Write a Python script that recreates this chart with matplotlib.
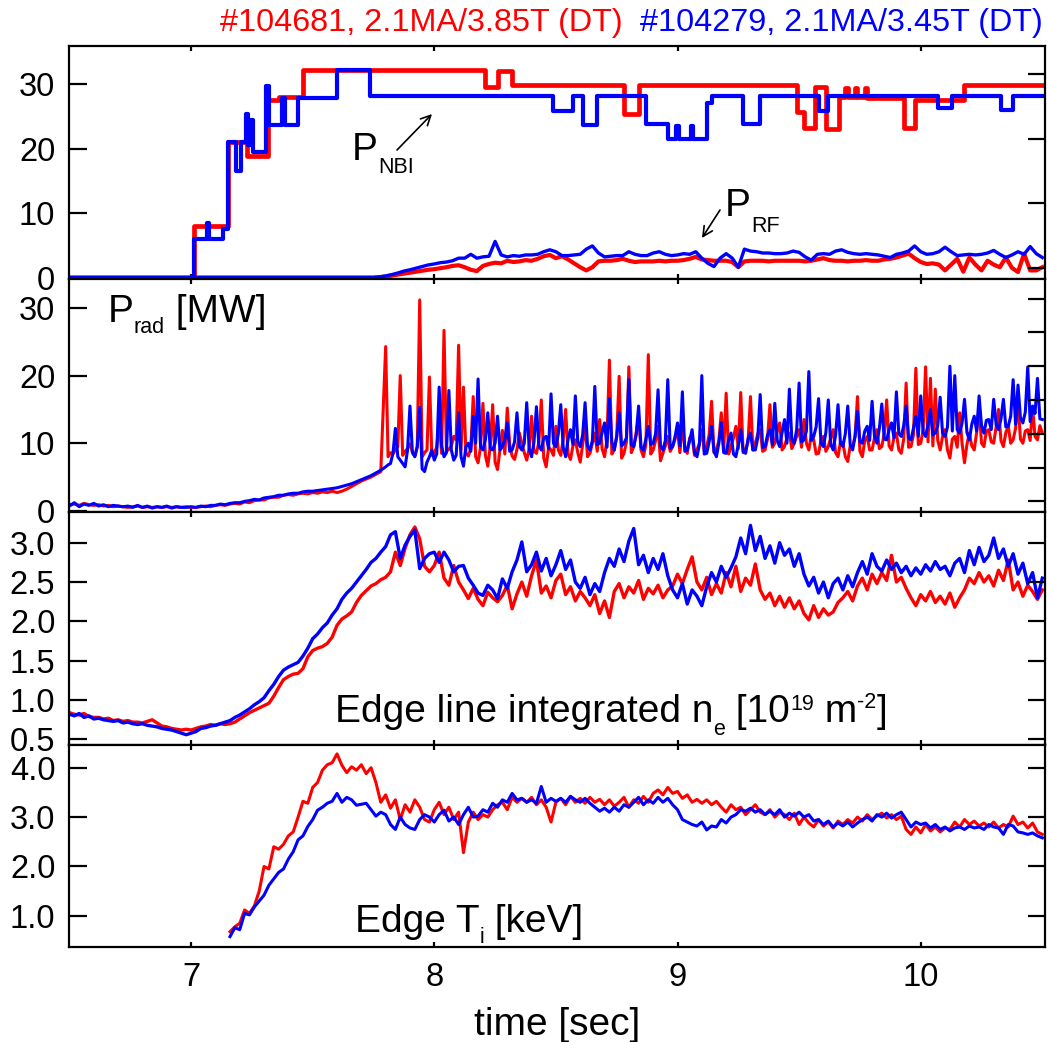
import numpy as np
import matplotlib
matplotlib.use("Agg")
import matplotlib.pyplot as plt
from matplotlib.transforms import IdentityTransform

plt.rcParams['font.family'] = ['Liberation Sans', 'DejaVu Sans']

RED = '#ff0000'
BLUE = '#0000ff'

# ---------------- data ----------------
# NBI power [MW], step changes (time [s], level)
nbi_red_t = [6.5, 7.01, 7.15, 7.23, 7.315, 7.36, 7.46, 8.21, 8.26, 8.32, 8.78, 8.84, 9.49, 9.52,
             9.565, 9.61, 9.665, 9.69, 9.70, 9.73, 9.74, 9.77, 9.78, 9.93, 9.975, 10.18, 10.52]
nbi_red_v = [0.0, 8.0, 21.0, 18.8, 27.6, 28.0, 32.2, 29.6, 32.0, 29.8, 25.4, 29.8, 25.6, 23.2,
             29.6, 23.0, 28.0, 29.4, 28.0, 29.4, 28.0, 29.4, 27.8, 23.2, 27.5, 29.8, 29.8]
nbi_blue_t = [6.5, 7.01, 7.065, 7.075, 7.13, 7.15, 7.185, 7.205, 7.225, 7.235, 7.245, 7.255, 7.31,
              7.32, 7.375, 7.385, 7.44, 7.6, 7.735, 8.49, 8.57, 8.61, 8.67, 8.87, 8.96, 8.995,
              9.005, 9.055, 9.065, 9.12, 9.14, 9.27, 9.34, 9.58, 9.62, 10.07, 10.13, 10.33, 10.38,
              10.52]
nbi_blue_v = [0.0, 6.0, 8.5, 6.0, 7.5, 21.0, 16.5, 21.0, 25.3, 20.5, 24.5, 19.5, 29.7,
              23.6, 27.8, 23.6, 27.8, 32.2, 28.1, 25.8, 28.1, 23.6, 28.1, 23.8, 21.5, 23.5,
              21.5, 23.5, 21.5, 27.0, 28.1, 23.8, 28.1, 25.8, 28.1, 26.3, 28.1, 26.0, 28.1,
              28.1]

# RF power [MW], sampled every 25 ms from 7.75 s (zero before)
RF_T0, RF_DT = 7.75, 0.025
rf_red = [0.0, 0.05, 0.15, 0.3, 0.45, 0.6, 0.75, 0.9, 1.05, 1.2,
          1.3, 1.45, 1.6, 1.8, 1.9, 1.6, 1.2, 1.0, 1.8, 2.1,
          2.3, 2.2, 2.6, 2.4, 2.5, 2.7, 2.6, 2.9, 3.3, 3.5,
          3.0, 3.3, 2.8, 2.2, 1.6, 1.1, 1.6, 2.5, 2.6, 2.6,
          2.7, 2.9, 2.6, 2.4, 2.5, 2.5, 2.5, 2.6, 2.5, 2.6,
          2.6, 2.7, 2.9, 3.2, 2.8, 2.7, 2.6, 2.6, 2.6, 2.4,
          1.6, 2.5, 2.6, 2.6, 2.6, 2.5, 2.6, 2.6, 2.6, 2.6,
          2.6, 2.5, 2.6, 2.8, 3.0, 2.7, 2.6, 2.6, 2.5, 2.6,
          2.6, 2.7, 2.6, 2.6, 2.8, 2.9, 3.1, 3.4, 3.7, 3.0,
          2.4, 2.1, 2.2, 2.0, 1.1, 2.0, 2.9, 0.9, 3.1, 2.0,
          1.1, 2.6, 2.0, 1.6, 3.1, 1.5, 0.85, 3.7, 1.1, 1.1, 1.6]
rf_blue = [0.0, 0.1, 0.25, 0.45, 0.7, 1.0, 1.2, 1.45, 1.7, 1.95,
           2.1, 2.3, 2.4, 2.6, 3.0, 3.0, 3.6, 3.0, 3.2, 3.3,
           5.6, 3.5, 3.2, 3.4, 3.3, 3.5, 3.5, 3.6, 4.0, 4.3,
           4.0, 3.4, 3.4, 3.5, 3.6, 4.4, 4.9, 3.8, 3.2, 3.3,
           3.4, 3.4, 4.0, 3.6, 3.4, 3.4, 3.8, 4.0, 3.6, 3.4,
           3.5, 3.7, 3.6, 4.0, 3.0, 2.2, 1.7, 3.0, 3.7, 3.0,
           1.6, 4.4, 4.1, 4.0, 3.8, 3.8, 3.7, 3.7, 3.8, 4.1,
           3.9, 3.2, 2.7, 3.6, 3.7, 3.6, 4.1, 4.3, 3.9, 3.7,
           3.6, 3.7, 3.6, 3.5, 3.3, 3.1, 3.6, 3.8, 4.1, 4.9,
           4.0, 3.6, 3.7, 4.0, 4.7, 4.0, 3.4, 3.5, 3.6, 3.5,
           3.6, 3.8, 4.2, 3.6, 3.1, 3.5, 4.0, 3.6, 4.8, 3.7, 3.1]

# Radiated power [MW]: every 20 ms from 6.50 s, then every 10 ms from 7.80 s
PRAD_EARLY_T0, PRAD_EARLY_DT = 6.5, 0.02
PRAD_LATE_T0, PRAD_LATE_DT = 7.8, 0.01
prad_red_early = [0.9, 1.0, 0.8, 1.1, 0.9, 0.8, 0.9, 0.7, 0.8, 0.6, 0.7, 0.6, 0.5,
                  0.6, 0.7, 0.5, 0.6, 0.5, 0.6, 0.5, 0.6, 0.5, 0.6, 0.5, 0.6, 0.5,
                  0.5, 0.6, 0.7, 0.6, 0.8, 0.9, 0.8, 1.0, 1.1, 1.0,
                  1.3, 1.2, 1.5, 1.6, 1.6, 1.9, 2.0, 2.0, 2.3, 2.4,
                  2.3, 2.5, 2.6, 2.5, 2.7, 2.6, 2.8, 2.7, 2.9, 2.7,
                  2.9, 3.2, 3.6, 4.0, 4.4, 4.7, 5.0, 5.4, 5.8]
prad_red_late = [24.3, 8.0, 8.6, 8.4, 9.0, 9.5, 20.0, 8.2, 8.8, 9.2,
                 9.9, 8.7, 8.1, 9.5, 31.2, 8.0, 8.6, 9.0, 19.8, 8.2,
                 8.6, 9.4, 13.5, 8.5, 26.7, 8.8, 9.1, 9.6, 11.0, 10.5,
                 24.5, 9.0, 18.3, 8.6, 8.1, 9.2, 16.9, 8.0, 7.1, 9.4,
                 15.9, 8.2, 6.6, 9.5, 15.7, 7.2, 6.1, 9.0, 11.9, 8.4,
                 15.2, 9.8, 8.1, 7.6, 9.1, 11.5, 10.0, 8.6, 7.5, 9.2,
                 14.0, 8.8, 8.5, 10.2, 16.4, 7.8, 6.5, 9.4, 9.0, 8.2,
                 12.5, 9.0, 8.2, 10.6, 15.0, 8.4, 7.6, 9.6, 10.5, 8.6,
                 7.2, 9.8, 13.0, 8.0, 8.5, 10.0, 11.5, 8.8, 13.5, 9.2,
                 8.0, 10.5, 22.3, 8.4, 9.0, 11.0, 19.9, 7.8, 8.5, 10.2,
                 21.3, 8.6, 9.5, 11.5, 14.0, 9.0, 8.0, 9.8, 23.1, 8.4,
                 9.0, 10.4, 12.5, 7.4, 8.5, 9.6, 11.0, 8.8, 9.5, 10.6,
                 12.0, 8.6, 13.0, 9.4, 8.5, 10.8, 11.0, 8.2, 9.0, 10.0,
                 12.0, 8.8, 9.5, 11.2, 16.2, 8.6, 9.0, 10.4, 14.5, 9.0,
                 17.4, 8.4, 9.5, 10.8, 12.5, 9.2, 17.5, 8.6, 9.0, 10.2,
                 16.9, 9.0, 10.0, 11.4, 12.0, 8.8, 9.0, 10.6, 15.7, 9.4,
                 10.0, 11.8, 13.0, 9.0, 9.5, 10.8, 11.5, 9.2, 10.0, 11.0,
                 12.0, 9.4, 13.5, 10.0, 9.0, 11.2, 10.5, 8.4, 8.5, 10.4,
                 11.0, 8.8, 9.5, 10.8, 12.0, 8.6, 8.0, 10.2, 10.0, 8.0,
                 7.3, 9.6, 9.5, 11.0, 16.9, 8.8, 8.0, 10.4, 11.0, 9.0,
                 9.0, 10.8, 12.0, 9.2, 9.5, 11.4, 16.4, 9.6, 9.0, 10.8,
                 11.5, 9.0, 8.5, 10.6, 18.9, 9.4, 9.5, 11.2, 21.1, 9.8,
                 10.0, 12.0, 21.3, 10.2, 19.6, 9.6, 18.0, 10.4, 9.0, 11.0,
                 12.0, 9.0, 7.8, 10.6, 11.0, 9.4, 14.5, 10.0, 7.1, 9.8,
                 11.5, 9.6, 9.0, 11.6, 15.4, 10.0, 9.5, 11.8, 12.0, 10.2,
                 10.0, 12.4, 15.0, 10.4, 9.5, 11.6, 12.5, 10.0, 10.5, 12.2,
                 16.2, 10.6, 10.0, 11.8, 12.0, 10.4, 15.4, 11.0, 10.5, 12.6,
                 11.5]
prad_blue_early = [0.7, 1.2, 0.6, 1.0, 0.8, 1.1, 0.7, 0.9, 0.6, 0.8, 0.7, 0.6, 0.7,
                   0.5, 0.8, 0.5, 0.7, 0.4, 0.6, 0.5, 0.7, 0.4, 0.6, 0.5, 0.5, 0.6,
                   0.5, 0.7, 0.6, 0.8, 0.8, 1.0, 0.9, 1.1, 1.2, 1.2,
                   1.4, 1.5, 1.7, 1.6, 1.9, 2.0, 2.1, 2.3, 2.3, 2.5,
                   2.6, 2.6, 2.8, 2.9, 2.9, 3.0, 3.1, 3.2, 3.3, 3.4,
                   3.6, 3.8, 4.0, 4.3, 4.6, 4.9, 5.2, 5.6, 6.0]
prad_blue_late = [6.5, 6.8, 7.0, 8.5, 12.2, 8.0, 7.5, 7.0, 6.5, 9.0,
                  15.5, 8.6, 8.0, 9.5, 15.3, 6.2, 5.8, 7.2, 8.0, 9.0,
                  7.5, 8.4, 18.3, 9.6, 8.0, 8.6, 17.8, 9.0, 7.5, 8.2,
                  14.5, 8.0, 6.6, 9.5, 10.0, 8.8, 14.0, 10.0, 19.5, 9.5,
                  9.0, 10.5, 14.5, 9.2, 9.0, 10.0, 14.0, 9.0, 9.5, 10.5,
                  13.0, 8.8, 9.0, 10.2, 14.5, 9.5, 9.0, 10.0, 16.0, 9.2,
                  8.0, 10.2, 15.4, 9.6, 9.0, 10.8, 11.0, 9.2, 17.3, 10.0,
                  9.5, 11.4, 15.7, 9.4, 8.0, 10.6, 12.0, 9.8, 17.0, 10.2,
                  9.5, 11.2, 16.0, 9.6, 9.0, 10.4, 18.4, 9.8, 10.0, 11.6,
                  13.0, 9.4, 16.6, 10.2, 9.0, 11.0, 14.5, 9.6, 10.0, 10.8,
                  19.4, 9.8, 9.5, 11.2, 15.5, 9.4, 9.0, 10.6, 12.5, 9.8,
                  10.0, 11.4, 17.9, 9.6, 9.0, 10.4, 19.4, 9.2, 9.5, 11.0,
                  13.0, 9.6, 17.6, 8.8, 9.0, 10.4, 12.0, 8.6, 8.0, 9.8,
                  20.0, 8.4, 8.5, 10.2, 12.5, 8.8, 8.0, 10.0, 13.0, 8.6,
                  8.5, 10.4, 11.5, 8.4, 8.0, 9.8, 12.0, 8.8, 8.5, 10.6,
                  11.5, 9.0, 9.0, 10.8, 17.2, 9.4, 9.5, 11.2, 12.0, 9.8,
                  15.9, 10.4, 9.5, 11.6, 13.5, 10.0, 18.0, 10.6, 10.0, 12.0,
                  18.9, 10.2, 10.5, 11.8, 20.6, 10.4, 11.0, 12.4, 16.6, 10.0,
                  9.5, 11.6, 16.4, 9.8, 9.0, 11.2, 15.7, 10.0, 9.5, 11.4,
                  15.5, 9.8, 9.0, 11.0, 14.7, 10.2, 10.0, 11.8, 12.5, 10.4,
                  16.2, 11.0, 10.0, 12.2, 15.8, 10.6, 10.5, 12.0, 13.0, 10.8,
                  17.6, 11.4, 11.0, 12.6, 15.5, 10.8, 10.5, 12.2, 14.0, 11.0,
                  17.0, 11.6, 11.0, 12.8, 15.0, 11.2, 11.5, 12.6, 16.8, 11.4,
                  11.0, 12.4, 21.4, 11.8, 20.0, 12.0, 11.5, 13.0, 16.5, 11.6,
                  10.5, 12.8, 14.0, 11.8, 17.0, 12.6, 11.5, 13.4, 13.5, 12.0,
                  16.5, 12.8, 12.0, 13.6, 16.5, 12.4, 12.5, 14.0, 19.4, 12.8,
                  18.6, 13.8, 13.0, 14.6, 21.3, 13.2, 15.5, 14.4, 19.6, 13.6,
                  13.5]

# Edge line-integrated density [1e19 m^-2], every 20 ms from 6.50 s
NE_T0, NE_DT = 6.5, 0.02
ne_red = [0.84, 0.82, 0.81, 0.83, 0.79, 0.78, 0.78, 0.76, 0.77, 0.74,
          0.75, 0.73, 0.74, 0.72, 0.72, 0.71, 0.73, 0.75, 0.71, 0.67,
          0.66, 0.64, 0.63, 0.62, 0.63, 0.62, 0.64, 0.66, 0.67, 0.69,
          0.68, 0.70, 0.69, 0.70, 0.72, 0.76, 0.80, 0.84, 0.87, 0.90,
          0.93, 0.96, 1.05, 1.16, 1.26, 1.30, 1.33, 1.34, 1.40, 1.55,
          1.63, 1.66, 1.68, 1.72, 1.80, 1.95, 2.03, 2.07, 2.12, 2.24,
          2.33, 2.39, 2.45, 2.48, 2.53, 2.56, 2.63, 2.88, 2.71, 2.93,
          3.10, 3.20, 3.05, 2.70, 2.63, 2.71, 2.88, 2.55, 2.46, 2.71,
          2.50, 2.40, 2.29, 2.42, 2.28, 2.20, 2.37, 2.30, 2.25, 2.33,
          2.46, 2.16, 2.35, 2.50, 2.32, 2.58, 2.78, 2.36, 2.45, 2.30,
          2.52, 2.60, 2.34, 2.44, 2.26, 2.38, 2.30, 2.20, 2.34, 2.10,
          2.26, 2.05, 2.38, 2.48, 2.30, 2.44, 2.36, 2.52, 2.28, 2.42,
          2.35, 2.46, 2.30, 2.40, 2.45, 2.60, 2.48, 2.66, 2.82, 2.50,
          2.40, 2.56, 2.34, 2.48, 2.36, 2.62, 2.44, 2.70, 2.38, 2.55,
          2.46, 2.73, 2.40, 2.28, 2.36, 2.20, 2.32, 2.18, 2.30, 2.16,
          2.26, 2.10, 2.02, 2.20, 2.05, 2.16, 2.08, 2.12, 2.24, 2.30,
          2.38, 2.26, 2.45, 2.55, 2.40, 2.60, 2.48, 2.62, 2.52, 2.84,
          2.50, 2.56, 2.42, 2.30, 2.20, 2.34, 2.26, 2.38, 2.24, 2.32,
          2.22, 2.36, 2.18, 2.30, 2.40, 2.55, 2.48, 2.62, 2.50, 2.58,
          2.45, 2.65, 2.52, 2.78, 2.40, 2.50, 2.32, 2.46, 2.38, 2.28,
          2.40]
ne_blue = [0.82, 0.80, 0.83, 0.78, 0.80, 0.76, 0.77, 0.75, 0.74, 0.73,
           0.74, 0.71, 0.72, 0.70, 0.69, 0.70, 0.68, 0.67, 0.66, 0.64,
           0.63, 0.62, 0.60, 0.58, 0.56, 0.58, 0.60, 0.64, 0.65, 0.67,
           0.68, 0.70, 0.72, 0.74, 0.78, 0.81, 0.85, 0.89, 0.94, 0.98,
           1.03, 1.12, 1.20, 1.30, 1.38, 1.42, 1.45, 1.48, 1.56, 1.66,
           1.78, 1.84, 1.92, 1.98, 2.08, 2.16, 2.28, 2.36, 2.42, 2.50,
           2.58, 2.66, 2.75, 2.80, 2.88, 2.95, 3.10, 3.14, 2.80, 2.97,
           3.08, 3.16, 2.67, 2.80, 2.86, 2.88, 2.75, 2.88, 2.78, 2.63,
           2.70, 2.71, 2.55, 2.46, 2.36, 2.33, 2.46, 2.40, 2.29, 2.54,
           2.42, 2.63, 2.78, 3.01, 2.63, 2.72, 2.88, 2.64, 2.80, 2.58,
           2.72, 2.90, 2.66, 2.78, 2.50, 2.42, 2.56, 2.34, 2.48, 2.38,
           2.62, 2.80, 2.70, 2.92, 2.76, 3.02, 3.18, 2.72, 2.84, 2.62,
           2.80, 2.66, 2.86, 2.58, 2.40, 2.30, 2.48, 2.22, 2.40, 2.32,
           2.20, 2.44, 2.62, 2.50, 2.70, 2.56, 2.68, 2.82, 3.06, 2.86,
           3.22, 2.90, 3.08, 2.80, 2.96, 2.74, 3.00, 2.84, 2.92, 2.70,
           2.86, 2.60, 2.45, 2.56, 2.36, 2.50, 2.30, 2.48, 2.55, 2.40,
           2.58, 2.44, 2.62, 2.76, 2.60, 2.86, 2.70, 2.64, 2.78, 2.66,
           2.74, 2.62, 2.70, 2.58, 2.68, 2.60, 2.72, 2.64, 2.76, 2.66,
           2.70, 2.58, 2.74, 2.80, 2.62, 2.90, 2.72, 2.94, 2.76, 2.84,
           3.06, 2.80, 2.92, 2.70, 2.86, 2.60, 2.74, 2.48, 2.62, 2.30,
           2.55]

# Edge ion temperature [keV], every 20 ms from 7.16 s
TI_T0, TI_DT = 7.16, 0.02
ti_red = [0.68, 0.78, 0.85, 1.12, 1.05, 1.20, 1.50, 2.00, 1.95, 2.40,
          2.35, 2.45, 2.62, 2.70, 3.00, 3.32, 3.28, 3.60, 3.70, 3.95,
          4.06, 4.10, 4.28, 4.05, 3.90, 4.02, 3.95, 4.06, 3.88, 4.00,
          3.70, 3.30, 3.45, 3.18, 3.35, 2.95, 3.25, 3.10, 3.35, 3.20,
          2.95, 2.90, 3.15, 3.30, 3.05, 3.20, 2.95, 3.10, 2.28, 2.90,
          3.10, 2.95, 3.05, 3.00, 3.15, 3.25, 3.30, 3.15, 3.40, 3.30,
          3.38, 3.30, 3.40, 3.25, 3.35, 3.20, 2.90, 3.30, 3.38, 3.25,
          3.42, 3.30, 3.38, 3.28, 3.40, 3.30, 3.36, 3.25, 3.35, 3.22,
          3.30, 3.40, 3.20, 3.35, 3.28, 3.42, 3.30, 3.48, 3.55, 3.45,
          3.60, 3.48, 3.52, 3.38, 3.45, 3.30, 3.36, 3.28, 3.35, 3.25,
          3.32, 3.20, 3.10, 3.25, 3.15, 3.20, 3.05, 3.15, 3.25, 3.10,
          3.05, 3.15, 3.00, 3.10, 3.05, 2.95, 3.08, 2.85, 3.00, 2.88,
          2.80, 2.95, 2.82, 2.90, 2.78, 2.92, 2.85, 2.95, 2.88, 3.00,
          2.92, 3.05, 2.95, 3.02, 3.08, 2.98, 3.05, 2.95, 3.02, 2.75,
          2.65, 2.80, 2.68, 2.85, 2.72, 2.80, 2.70, 2.78, 2.75, 2.90,
          2.80, 2.95, 2.85, 2.92, 2.82, 2.88, 2.80, 2.90, 2.78, 2.85,
          2.80, 3.02, 2.85, 2.90, 2.78, 2.88, 2.70, 2.65]
ti_blue = [0.58, 0.76, 0.72, 1.05, 1.02, 1.18, 1.30, 1.42, 1.62, 1.75,
           1.88, 1.95, 2.15, 2.30, 2.54, 2.62, 2.81, 2.95, 3.14, 3.20,
           3.28, 3.32, 3.48, 3.30, 3.40, 3.35, 3.24, 3.26, 3.28, 3.15,
           3.02, 3.10, 3.05, 2.85, 2.75, 3.00, 2.85, 2.78, 2.75, 2.95,
           3.05, 3.00, 2.90, 3.05, 3.14, 2.92, 3.00, 2.85, 3.05, 3.20,
           3.00, 3.02, 3.15, 3.10, 3.28, 3.20, 3.35, 3.30, 3.48, 3.35,
           3.38, 3.30, 3.35, 3.28, 3.62, 3.30, 3.38, 3.32, 3.38, 3.30,
           3.42, 3.35, 3.30, 3.38, 3.28, 3.20, 3.12, 3.18, 3.10, 3.20,
           3.12, 3.25, 3.20, 3.30, 3.40, 3.25, 3.35, 3.28, 3.40, 3.30,
           3.38, 3.25, 3.15, 2.95, 2.90, 2.85, 2.82, 2.90, 2.74, 2.82,
           2.80, 2.95, 2.88, 3.00, 3.05, 3.15, 3.12, 3.18, 3.10, 3.15,
           3.05, 3.12, 3.05, 3.15, 3.00, 3.08, 3.02, 3.10, 3.00, 3.05,
           2.92, 2.95, 2.85, 2.92, 2.80, 2.88, 2.82, 2.90, 2.80, 2.88,
           2.95, 3.00, 2.92, 3.05, 3.00, 3.08, 2.98, 3.05, 3.10, 2.95,
           2.80, 2.90, 2.85, 2.88, 2.78, 2.85, 2.75, 2.80, 2.72, 2.78,
           2.80, 2.75, 2.82, 2.78, 2.80, 2.75, 2.85, 2.80, 2.78, 2.65,
           2.85, 2.82, 2.70, 2.68, 2.65, 2.68, 2.62, 2.58]

x_ticks = [7, 8, 9, 10]
y1_ticks = [0, 10, 20, 30]
y2_ticks = [0, 10, 20, 30]
y3_ticks = [0.5, 1.0, 1.5, 2.0, 2.5, 3.0]
y4_ticks = [1.0, 2.0, 3.0, 4.0]

title_red = "#104681, 2.1MA/3.85T (DT)"
title_blue = "#104279, 2.1MA/3.45T (DT)"


def timebase(t0, dt, vals):
    return t0 + dt * np.arange(len(vals))


# ---------------- layout ----------------
W, H = 1048, 1042
fig = plt.figure(figsize=(W / 100, H / 100), dpi=100)
X0, X1 = 68.5, 1045.0


def panel(top, bottom):
    return fig.add_axes([X0 / W, 1 - bottom / H, (X1 - X0) / W, (bottom - top) / H])


ax1 = panel(46, 279)
ax2 = panel(279, 512)
ax3 = panel(512, 744.5)
ax4 = panel(744.5, 947)

XLIM = (6.496, 10.511)
SPINE_W = 1.6
TICK_FS = 23.5


def style(ax, ylim, yticks, ylabels, right_ticks, show_x):
    ax.set_xlim(*XLIM)
    ax.set_ylim(*ylim)
    ax.set_xticks(x_ticks)
    ax.set_xticklabels([str(v) for v in x_ticks])
    ax.set_yticks(yticks)
    ax.set_yticklabels(ylabels)
    ax.minorticks_off()
    ax.tick_params(axis='x', direction='in', top=True, bottom=True, length=3.6,
                   width=SPINE_W, labelsize=TICK_FS, pad=11, labelbottom=show_x)
    ax.tick_params(axis='y', direction='in', left=True, right=False, length=13,
                   width=SPINE_W, labelsize=TICK_FS, pad=9.5)
    for s in ax.spines.values():
        s.set_linewidth(SPINE_W)
    tw = ax.twinx()
    tw.set_ylim(*ylim)
    tw.set_yticks(right_ticks)
    tw.minorticks_off()
    tw.tick_params(axis='y', direction='in', right=True, length=12, width=SPINE_W,
                   labelright=False)
    for s in tw.spines.values():
        s.set_visible(False)
    return tw


# ---- panel 1: heating power ----
ax1.plot(nbi_red_t, nbi_red_v, color=RED, lw=3.4, drawstyle='steps-post')
ax1.plot([6.5] + list(timebase(RF_T0, RF_DT, rf_red)), [0.0] + rf_red, color=RED, lw=3.0)
ax1.plot(nbi_blue_t, nbi_blue_v, color=BLUE, lw=3.0, drawstyle='steps-post')
ax1.plot([6.5] + list(timebase(RF_T0, RF_DT, rf_blue)), [0.0] + rf_blue, color=BLUE, lw=2.4)
style(ax1, (-0.23, 35.9), y1_ticks, ['0', '10', '20', '30'],
      [1.5, 11.5, 21.5, 31.5], False)

# ---- panel 2: radiated power ----
t_prad_red = np.concatenate([timebase(PRAD_EARLY_T0, PRAD_EARLY_DT, prad_red_early),
                             timebase(PRAD_LATE_T0, PRAD_LATE_DT, prad_red_late)])
t_prad_blue = np.concatenate([timebase(PRAD_EARLY_T0, PRAD_EARLY_DT, prad_blue_early),
                              timebase(PRAD_LATE_T0, PRAD_LATE_DT, prad_blue_late)])
ax2.plot(t_prad_red, prad_red_early + prad_red_late, color=RED, lw=2.2)
ax2.plot(t_prad_blue, prad_blue_early + prad_blue_late, color=BLUE, lw=2.2)
style(ax2, (-0.18, 34.3), y2_ticks, ['0', '10', '20', '30'],
      [1.4, 6.4, 11.4, 16.4, 21.4, 26.4, 31.4], False)

# ---- panel 3: edge density ----
ax3.plot(timebase(NE_T0, NE_DT, ne_red), ne_red, color=RED, lw=2.4)
ax3.plot(timebase(NE_T0, NE_DT, ne_blue), ne_blue, color=BLUE, lw=2.4)
style(ax3, (0.436, 3.39), y3_ticks, ['%.1f' % v for v in y3_ticks], y3_ticks, False)

# ---- panel 4: edge ion temperature ----
ax4.plot(timebase(TI_T0, TI_DT, ti_red), ti_red, color=RED, lw=2.2)
ax4.plot(timebase(TI_T0, TI_DT, ti_blue), ti_blue, color=BLUE, lw=2.2)
style(ax4, (0.37, 4.47), y4_ticks, ['%.1f' % v for v in y4_ticks], y4_ticks, True)

ax4.set_xlabel('time [sec]', fontsize=28)
ax4.xaxis.label.set_va('baseline')
ax4.xaxis.set_label_coords(0.5008, (947 - 1035) / 202.0)

# ---------------- annotations ----------------
ident = IdentityTransform()
renderer = fig.canvas.get_renderer()


def chain(x, y, pieces, color='k'):
    """Write text pieces left to right from pixel (x, y) (y measured from top)."""
    for s, size, dy in pieces:
        t = fig.text(x, H - y + dy, s, fontsize=size, color=color, transform=ident,
                     ha='left', va='baseline')
        x = t.get_window_extent(renderer).x1


fig.text(220, H - 31, title_red, color=RED, fontsize=23.3, transform=ident,
         ha='left', va='baseline')
fig.text(640, H - 31, title_blue, color=BLUE, fontsize=23.3, transform=ident,
         ha='left', va='baseline')

BIG, SMALL = 28, 15.5
chain(352, 160, [('P', BIG, 0), ('NBI', SMALL, -13)])
chain(725, 216.5, [('P', BIG, 0), ('RF', SMALL, -15)])
chain(108, 321.7, [('P', BIG, 0), ('rad', SMALL, -11), (' [MW]', BIG, 0)])
chain(335, 721.7, [('Edge line integrated n', BIG, 0), ('e', SMALL, -13),
                   (' [10', BIG, 0), ('19', SMALL, 12), (' m', BIG, 0),
                   ('-2', SMALL, 14), (']', BIG, 0)])
chain(355, 931.7, [('Edge T', BIG, 0), ('i', SMALL, -11), (' [keV]', BIG, 0)])

arrow = dict(arrowstyle='->,head_length=0.5,head_width=0.25', lw=1.2, color='k',
             mutation_scale=14, shrinkA=0, shrinkB=0)
ax1.annotate('', xy=(432, H - 114), xycoords='figure pixels',
             xytext=(397, H - 150), textcoords='figure pixels', arrowprops=arrow)
ax1.annotate('', xy=(702, H - 238), xycoords='figure pixels',
             xytext=(720, H - 210), textcoords='figure pixels', arrowprops=arrow)

fig.savefig('out.png', dpi=100)
